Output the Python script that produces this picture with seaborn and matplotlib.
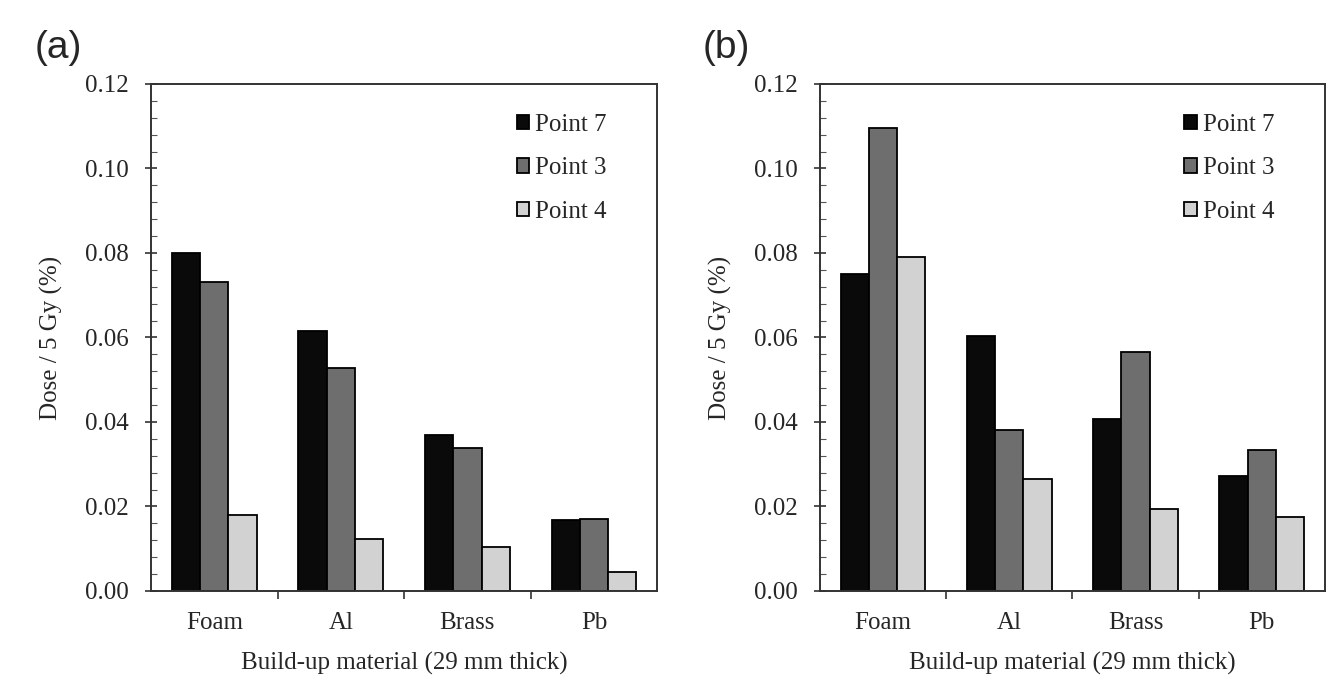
import matplotlib
matplotlib.use("Agg")
import matplotlib.pyplot as plt
import seaborn as sns
import pandas as pd
from matplotlib.ticker import MultipleLocator, FixedLocator

materials = ["Foam", "Al", "Brass", "Pb"]
points = ["Point 7", "Point 3", "Point 4"]

a_point7 = [0.0800, 0.0615, 0.0370, 0.0167]
a_point3 = [0.0731, 0.0528, 0.0338, 0.0170]
a_point4 = [0.0180, 0.0123, 0.0103, 0.0046]

b_point7 = [0.0750, 0.0603, 0.0406, 0.0273]
b_point3 = [0.1095, 0.0382, 0.0565, 0.0333]
b_point4 = [0.0790, 0.0266, 0.0195, 0.0176]

panel_labels = ["(a)", "(b)"]
yticks = [0.00, 0.02, 0.04, 0.06, 0.08, 0.10, 0.12]
xlabel = "Build-up material (29 mm thick)"
ylabel = "Dose / 5 Gy (%)"

colors = ["#0a0a0a", "#6e6e6e", "#d2d2d2"]

sns.set_style("white")
plt.rcParams["font.family"] = ["Liberation Serif", "DejaVu Serif"]

def make_df(p7, p3, p4):
    rows = []
    for name, vals in zip(points, [p7, p3, p4]):
        for m, v in zip(materials, vals):
            rows.append({"Material": m, "Point": name, "Dose": v})
    return pd.DataFrame(rows)

dfs = [make_df(a_point7, a_point3, a_point4), make_df(b_point7, b_point3, b_point4)]

fig = plt.figure(figsize=(13.39, 6.81), dpi=100)
positions = [[0.1128, 0.1322, 0.378, 0.7445], [0.6124, 0.1322, 0.377, 0.7445]]
label_pos = [(0.026, 0.915), (0.525, 0.915)]

for df, pos, lab, lp in zip(dfs, positions, panel_labels, label_pos):
    ax = fig.add_axes(pos)
    sns.barplot(data=df, x="Material", y="Dose", hue="Point", order=materials,
                hue_order=points, palette=colors, width=0.67, edgecolor="black",
                linewidth=1.3, saturation=1, ax=ax, errorbar=None)
    ax.set_ylim(0, 0.12)
    ax.set_xlim(-0.5, 3.5)
    ax.set_yticks(yticks)
    ax.set_yticklabels([f"{t:.2f}" for t in yticks], fontsize=18)
    ax.yaxis.set_minor_locator(MultipleLocator(0.004))
    ax.xaxis.set_minor_locator(FixedLocator([0.5, 1.5, 2.5]))
    ax.tick_params(axis="y", which="major", direction="inout", length=8, width=1.2, left=True, color="#333333", pad=12)
    ax.tick_params(axis="y", which="minor", direction="in", length=4, width=0.8, left=True, color="#555555")
    ax.tick_params(axis="x", which="major", length=0, labelsize=18, pad=15)
    ax.tick_params(axis="x", which="minor", direction="out", length=6, width=1.2, bottom=True, color="#333333")
    for s in ax.spines.values():
        s.set_visible(True)
        s.set_color("#333333")
        s.set_linewidth(1.4)
    ax.set_xlabel(xlabel, fontsize=18, labelpad=13)
    ax.set_ylabel(ylabel, fontsize=18, labelpad=16)
    leg = ax.legend(loc="upper right", frameon=False, fontsize=18,
                    handlelength=0.5, handleheight=0.5, handletextpad=0.25,
                    labelspacing=0.85, borderaxespad=0.3, bbox_to_anchor=(0.935, 0.975))
    fig.text(lp[0], lp[1], lab, fontsize=28, family=["Liberation Sans", "DejaVu Sans"])

fig.savefig("out.png", dpi=100)
